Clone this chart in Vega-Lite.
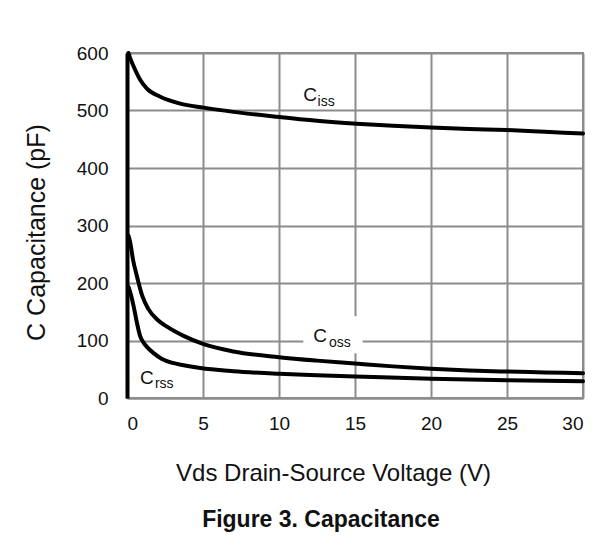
{
  "$schema": "https://vega.github.io/schema/vega-lite/v6.json",
  "width": 456,
  "height": 345,
  "autosize": {"type": "none"},
  "padding": {"left": 127, "top": 53, "right": 12, "bottom": 153},
  "background": "white",
  "config": {
    "font": "Liberation Sans",
    "view": {"stroke": "#8c8c8c", "strokeWidth": 2},
    "axis": {
      "labelFont": "Liberation Sans",
      "titleFont": "Liberation Sans",
      "labelColor": "#111111",
      "titleColor": "#111111",
      "titleFontWeight": "normal",
      "gridColor": "#8c8c8c",
      "gridWidth": 2,
      "gridOpacity": 1,
      "ticks": false
    }
  },
  "title": {
    "text": "Figure 3. Capacitance",
    "orient": "bottom",
    "anchor": "middle",
    "frame": "group",
    "dx": -34,
    "font": "Liberation Sans",
    "fontSize": 23,
    "fontWeight": "bold",
    "color": "#111111",
    "offset": 24
  },
  "datasets": {
    "curves": [
      {"series": "Ciss", "V": 0.1, "C": 600},
      {"series": "Ciss", "V": 0.25, "C": 588},
      {"series": "Ciss", "V": 0.43, "C": 577},
      {"series": "Ciss", "V": 0.875, "C": 553},
      {"series": "Ciss", "V": 1.31, "C": 538},
      {"series": "Ciss", "V": 2.19, "C": 524},
      {"series": "Ciss", "V": 3.5, "C": 512},
      {"series": "Ciss", "V": 5.03, "C": 505},
      {"series": "Ciss", "V": 7, "C": 497.6},
      {"series": "Ciss", "V": 9.85, "C": 489},
      {"series": "Ciss", "V": 12.5, "C": 482},
      {"series": "Ciss", "V": 15.1, "C": 477},
      {"series": "Ciss", "V": 17.5, "C": 473.5},
      {"series": "Ciss", "V": 20, "C": 470.5},
      {"series": "Ciss", "V": 22.5, "C": 468},
      {"series": "Ciss", "V": 25, "C": 466},
      {"series": "Ciss", "V": 27.5, "C": 463},
      {"series": "Ciss", "V": 30, "C": 460},
      {"series": "Coss", "V": 0.1, "C": 282},
      {"series": "Coss", "V": 0.2, "C": 272},
      {"series": "Coss", "V": 0.4, "C": 240},
      {"series": "Coss", "V": 0.66, "C": 211},
      {"series": "Coss", "V": 1.0, "C": 178},
      {"series": "Coss", "V": 1.4, "C": 155},
      {"series": "Coss", "V": 2.0, "C": 136},
      {"series": "Coss", "V": 2.63, "C": 124},
      {"series": "Coss", "V": 3.72, "C": 108},
      {"series": "Coss", "V": 5.0, "C": 94},
      {"series": "Coss", "V": 7, "C": 81},
      {"series": "Coss", "V": 10, "C": 71},
      {"series": "Coss", "V": 12.5, "C": 65},
      {"series": "Coss", "V": 15, "C": 60},
      {"series": "Coss", "V": 17.5, "C": 55},
      {"series": "Coss", "V": 20, "C": 51},
      {"series": "Coss", "V": 22.5, "C": 48},
      {"series": "Coss", "V": 25, "C": 46},
      {"series": "Coss", "V": 27.5, "C": 44.5},
      {"series": "Coss", "V": 30, "C": 43},
      {"series": "Crss", "V": 0.1, "C": 193},
      {"series": "Crss", "V": 0.2, "C": 185},
      {"series": "Crss", "V": 0.44, "C": 159},
      {"series": "Crss", "V": 0.66, "C": 130},
      {"series": "Crss", "V": 0.87, "C": 107},
      {"series": "Crss", "V": 1.1, "C": 96},
      {"series": "Crss", "V": 1.31, "C": 89},
      {"series": "Crss", "V": 1.75, "C": 78},
      {"series": "Crss", "V": 2.3, "C": 68},
      {"series": "Crss", "V": 3.0, "C": 61},
      {"series": "Crss", "V": 3.72, "C": 57},
      {"series": "Crss", "V": 4.82, "C": 52},
      {"series": "Crss", "V": 7, "C": 46.5},
      {"series": "Crss", "V": 10, "C": 42},
      {"series": "Crss", "V": 12.5, "C": 39.5},
      {"series": "Crss", "V": 15, "C": 37.5},
      {"series": "Crss", "V": 20, "C": 33.5},
      {"series": "Crss", "V": 25, "C": 31},
      {"series": "Crss", "V": 30, "C": 29}
    ],
    "box": [
      {"x1": 11.6, "x2": 15.5, "y1": 78, "y2": 142}
    ],
    "labels": [
      {"main": "C", "sub": "iss", "V": 12.05, "C": 526.6, "sV": 13.1, "sC": 515},
      {"main": "C", "sub": "oss", "V": 12.7, "C": 107, "sV": 14.0, "sC": 96},
      {"main": "C", "sub": "rss", "V": 1.31, "C": 34, "sV": 2.45, "sC": 24}
    ]
  },
  "layer": [
    {
      "data": {"name": "curves"},
      "mark": {"type": "line", "color": "#000000", "strokeWidth": 4, "interpolate": "monotone", "strokeCap": "round", "strokeJoin": "round"},
      "encoding": {
        "x": {
          "field": "V", "type": "quantitative",
          "scale": {"domain": [0, 30], "nice": false},
          "axis": {
            "values": [0, 5, 10, 15, 20, 25, 30],
            "title": "Vds Drain-Source Voltage (V)",
            "titleFontSize": 24,
            "titleX": 206,
            "titleY": 82,
            "titleAlign": "center",
            "titleBaseline": "alphabetic",
            "labelFontSize": 19,
            "labelBaseline": "alphabetic",
            "labelPadding": 31,
            "domainColor": "#8c8c8c",
            "domainWidth": 2
          }
        },
        "y": {
          "field": "C", "type": "quantitative",
          "scale": {"domain": [0, 600], "nice": false},
          "axis": {
            "values": [0, 100, 200, 300, 400, 500, 600],
            "title": "C Capacitance (pF)",
            "titleFontSize": 25,
            "titleAngle": -90,
            "titleX": -83,
            "titleY": 179,
            "titleAlign": "center",
            "titleBaseline": "alphabetic",
            "labelFontSize": 19,
            "labelPadding": 19,
            "domainColor": "#000000",
            "domainWidth": 4
          }
        },
        "detail": {"field": "series", "type": "nominal"}
      }
    },
    {
      "data": {"name": "box"},
      "mark": {"type": "rect", "color": "white"},
      "encoding": {
        "x": {"field": "x1", "type": "quantitative"},
        "x2": {"field": "x2"},
        "y": {"field": "y1", "type": "quantitative"},
        "y2": {"field": "y2"}
      }
    },
    {
      "data": {"name": "labels"},
      "mark": {"type": "text", "font": "Liberation Sans", "fontSize": 19, "color": "#111111", "align": "center", "baseline": "middle"},
      "encoding": {
        "x": {"field": "V", "type": "quantitative"},
        "y": {"field": "C", "type": "quantitative"},
        "text": {"field": "main"}
      }
    },
    {
      "data": {"name": "labels"},
      "mark": {"type": "text", "font": "Liberation Sans", "fontSize": 14, "color": "#111111", "align": "center", "baseline": "middle"},
      "encoding": {
        "x": {"field": "sV", "type": "quantitative"},
        "y": {"field": "sC", "type": "quantitative"},
        "text": {"field": "sub"}
      }
    }
  ]
}
